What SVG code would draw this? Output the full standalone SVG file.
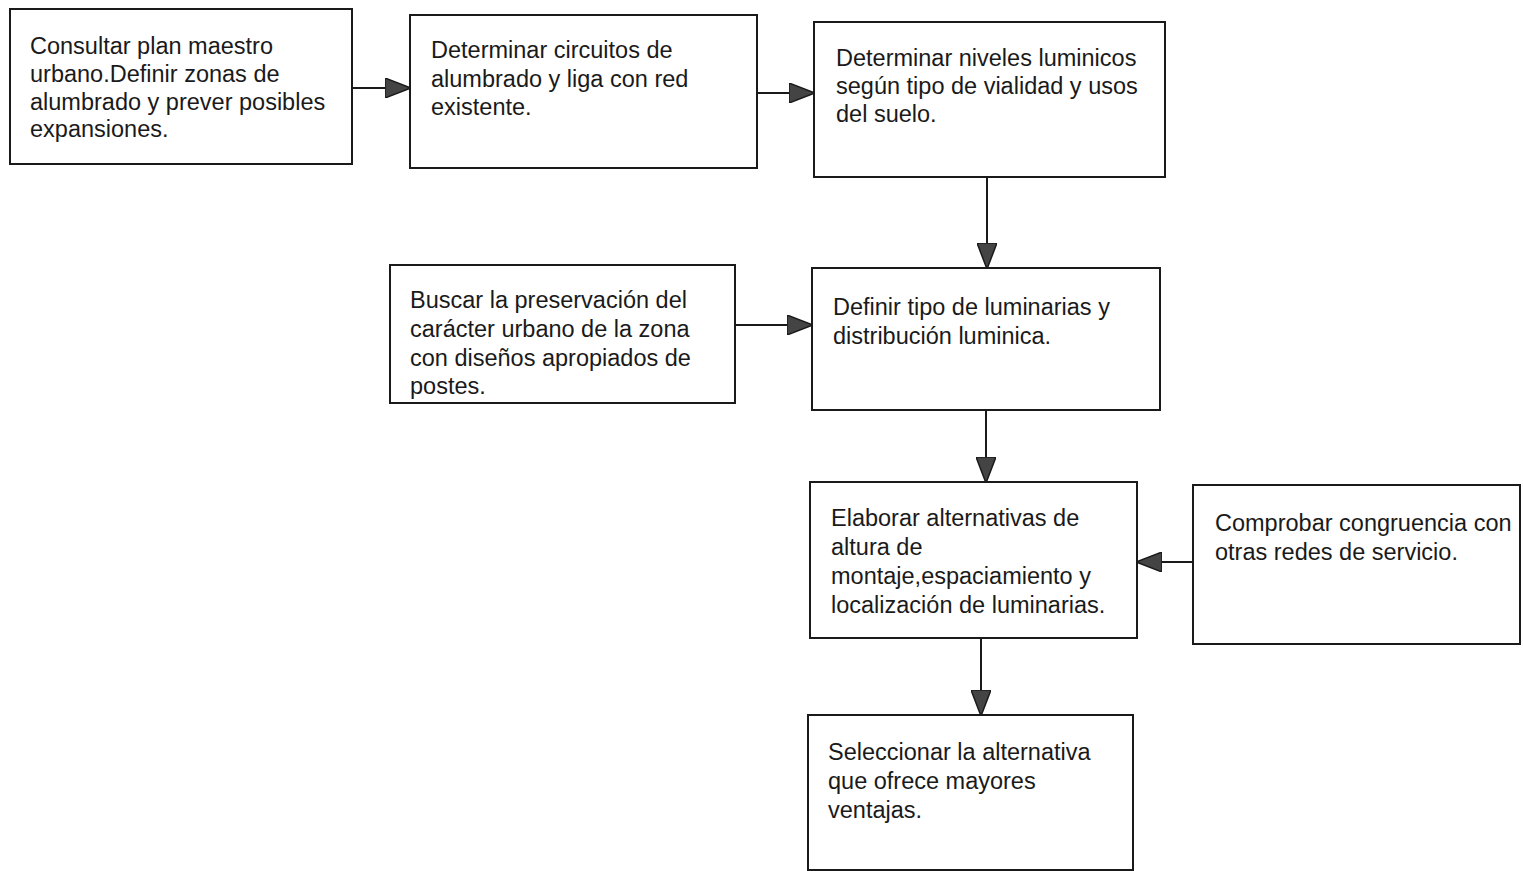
<svg xmlns="http://www.w3.org/2000/svg" width="1523" height="871" viewBox="0 0 1523 871">
  <style>
    .box { fill: #fff; stroke: #1a1a1a; stroke-width: 2; }
    .label { font-family: "Liberation Sans", Arial, sans-serif; font-size: 23.5px; fill: #1a1a1a; }
    .wire { stroke: #1a1a1a; stroke-width: 2; fill: none; marker-end: url(#head); }
  </style>
  <defs>
    <marker id="head" viewBox="0 0 26 20" refX="25" refY="10" markerWidth="26" markerHeight="20" markerUnits="userSpaceOnUse" orient="auto">
      <path d="M0,0 L26,10 L0,20 Z" fill="#444" stroke="#1a1a1a" stroke-width="1.5"/>
    </marker>
  </defs>
  <rect width="1523" height="871" fill="#fff"/>

  <g id="connectors">
    <line class="wire" x1="352" y1="88" x2="410" y2="88"/>
    <line class="wire" x1="757" y1="93" x2="814" y2="93"/>
    <line class="wire" x1="987" y1="177" x2="987" y2="268"/>
    <line class="wire" x1="735" y1="325" x2="812" y2="325"/>
    <line class="wire" x1="986" y1="410" x2="986" y2="482"/>
    <line class="wire" x1="1193" y1="562" x2="1137" y2="562"/>
    <line class="wire" x1="981" y1="638" x2="981" y2="715"/>
  </g>

  <g id="plan-maestro">
    <rect class="box" x="10" y="9" width="342" height="155"/>
    <text class="label" x="30" y="54">Consultar plan maestro</text>
    <text class="label" x="30" y="82">urbano.Definir zonas de</text>
    <text class="label" x="30" y="110">alumbrado y prever posibles</text>
    <text class="label" x="30" y="137">expansiones.</text>
  </g>

  <g id="circuitos">
    <rect class="box" x="410" y="15" width="347" height="153"/>
    <text class="label" x="431" y="58">Determinar circuitos de</text>
    <text class="label" x="431" y="87">alumbrado y liga con red</text>
    <text class="label" x="431" y="115">existente.</text>
  </g>

  <g id="niveles">
    <rect class="box" x="814" y="22" width="351" height="155"/>
    <text class="label" x="836" y="66">Determinar niveles luminicos</text>
    <text class="label" x="836" y="94">según tipo de vialidad y usos</text>
    <text class="label" x="836" y="122">del suelo.</text>
  </g>

  <g id="preservacion">
    <rect class="box" x="390" y="265" width="345" height="138"/>
    <text class="label" x="410" y="308">Buscar la preservación del</text>
    <text class="label" x="410" y="337">carácter urbano de la zona</text>
    <text class="label" x="410" y="366">con diseños apropiados de</text>
    <text class="label" x="410" y="394">postes.</text>
  </g>

  <g id="luminarias">
    <rect class="box" x="812" y="268" width="348" height="142"/>
    <text class="label" x="833" y="315">Definir tipo de luminarias y</text>
    <text class="label" x="833" y="344">distribución luminica.</text>
  </g>

  <g id="alternativas">
    <rect class="box" x="810" y="482" width="327" height="156"/>
    <text class="label" x="831" y="526">Elaborar alternativas de</text>
    <text class="label" x="831" y="555">altura de</text>
    <text class="label" x="831" y="584">montaje,espaciamiento y</text>
    <text class="label" x="831" y="613">localización de luminarias.</text>
  </g>

  <g id="congruencia">
    <rect class="box" x="1193" y="485" width="327" height="159"/>
    <text class="label" x="1215" y="531">Comprobar congruencia con</text>
    <text class="label" x="1215" y="560">otras redes de servicio.</text>
  </g>

  <g id="seleccion">
    <rect class="box" x="808" y="715" width="325" height="155"/>
    <text class="label" x="828" y="760">Seleccionar la alternativa</text>
    <text class="label" x="828" y="789">que ofrece mayores</text>
    <text class="label" x="828" y="818">ventajas.</text>
  </g>
</svg>
